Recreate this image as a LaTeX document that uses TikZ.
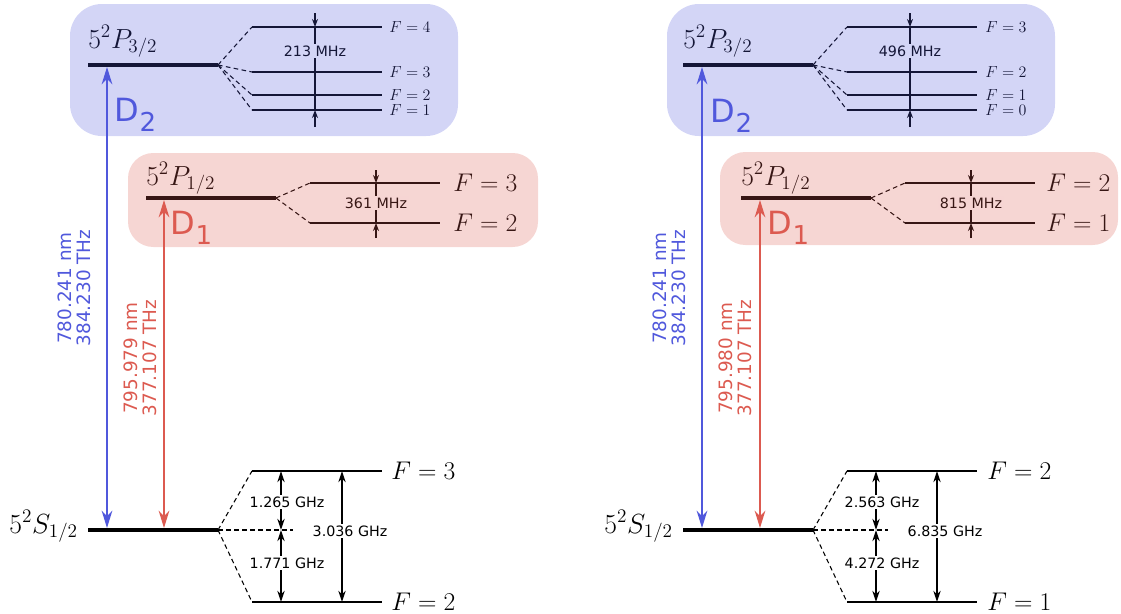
\documentclass[tikz,border=0pt]{standalone}
\usepackage{fontspec}
\setsansfont{DejaVu Sans}
\usetikzlibrary{arrows.meta}
\definecolor{blueC}{RGB}{80,88,220}
\definecolor{redC}{RGB}{220,90,80}
\tikzset{
 thickl/.style={line width=2.3pt},
 lvl/.style={line width=1pt},
 dsh/.style={line width=0.8pt, dash pattern=on 3.5pt off 2.5pt},
 stlab/.style={inner sep=0pt, font=\fontsize{20.74}{24}\selectfont},
 bigF/.style={anchor=west, inner sep=0pt, font=\fontsize{17.28}{20}\selectfont},
 smallF/.style={anchor=west, inner sep=0pt, font=\fontsize{12}{14}\selectfont},
 freq/.style={fill=white, inner sep=1.5pt, font=\sffamily\fontsize{10.7}{12}\selectfont},
 sarr/.style={line width=1pt, {Stealth[length=8.5pt,width=5.5pt]}-{Stealth[length=8.5pt,width=5.5pt]}},
 tarr/.style={line width=1pt, -{Stealth[length=6pt,width=4.5pt]}},
 larr/.style={line width=1.4pt, {Stealth[length=13pt,width=8pt]}-{Stealth[length=13pt,width=8pt]}},
 wl/.style={rotate=90, align=center, font=\sffamily\fontsize{13.8}{14.5}\selectfont},
 dlab/.style={anchor=base west, inner sep=0pt, font=\sffamily\fontsize{24}{24}\selectfont},
 boxB/.style={fill=blueC, fill opacity=0.25, rounded corners=24pt},
 boxR/.style={fill=redC, fill opacity=0.25, rounded corners=19pt},
}
\newcommand{\dsub}[1]{\kern0.5pt\raisebox{-8pt}{\fontsize{19.5}{20}\selectfont #1}}
\newcommand{\bigeq}[1]{\scalebox{1.11}{$F=#1$}}
\begin{document}
\begin{tikzpicture}[x=0.75pt,y=-0.75pt]
\useasboundingbox (0,0) rectangle (1121,614);

%================ LEFT =================
% 5P3/2
\coordinate (LPa) at (88,65); \coordinate (LPb) at (218,65);
\node[stlab, anchor=base west] (LPlab) at (88,48) {$5^2P_{3/2}$};
\foreach \y/\f/\n in {27/4/a,72/3/b,95/2/c,110/1/d}{
  \coordinate (LP\n1) at (252,\y); \coordinate (LP\n2) at (382,\y);
  \node[smallF] (LPF\n) at (389,\y) {$F=\f$};
  \draw[dsh] (LPb) -- (LP\n1);
  \draw[lvl] (LP\n1) -- (LP\n2);
}
\draw[thickl] (LPa) -- (LPb);
\coordinate (LH0) at (315,13); \coordinate (LH1) at (315,27);
\coordinate (LH2) at (315,110); \coordinate (LH3) at (315,127);
\draw[lvl] (LH1) -- (LH2);
\draw[tarr] (LH0) -- (LH1); \draw[tarr] (LH3) -- (LH2);
\node[freq] (LHl) at (315,51) {213 MHz};

% 5P1/2
\coordinate (LQa) at (146,198); \coordinate (LQb) at (276,198);
\node[stlab, anchor=base west] (LQlab) at (146,185) {$5^2P_{1/2}$};
\foreach \y/\f/\n in {183/3/a,223/2/b}{
  \coordinate (LQ\n1) at (310,\y); \coordinate (LQ\n2) at (440,\y);
  \node[bigF] (LQF\n) at (453,\y) {\bigeq{\f}};
  \draw[dsh] (LQb) -- (LQ\n1);
  \draw[lvl] (LQ\n1) -- (LQ\n2);
}
\draw[thickl] (LQa) -- (LQb);
\coordinate (LK0) at (376,170); \coordinate (LK1) at (376,183);
\coordinate (LK2) at (376,223); \coordinate (LK3) at (376,238);
\draw[lvl] (LK1) -- (LK2);
\draw[tarr] (LK0) -- (LK1); \draw[tarr] (LK3) -- (LK2);
\node[freq] (LKl) at (376,203) {361 MHz};

% 5S1/2
\coordinate (LSa) at (88,530); \coordinate (LSb) at (218,530); \coordinate (LSc) at (293,530);
\node[stlab, anchor=base east] (LSlab) at (78,533) {$5^2S_{1/2}$};
\foreach \y/\f/\n in {471/3/a,602/2/b}{
  \coordinate (LS\n1) at (252,\y); \coordinate (LS\n2) at (382,\y);
  \node[bigF] (LSF\n) at (391,\y) {\bigeq{\f}};
  \draw[dsh] (LSb) -- (LS\n1);
  \draw[lvl] (LS\n1) -- (LS\n2);
}
\draw[dsh] (LSb) -- (LSc);
\draw[thickl] (LSa) -- (LSb);
\coordinate (LG1) at (281,471); \coordinate (LG2) at (281,530); \coordinate (LG3) at (281,602);
\coordinate (LG4) at (342,471); \coordinate (LG5) at (342,602);
\draw[sarr] (LG1) -- (LG2); \draw[sarr] (LG2) -- (LG3); \draw[sarr] (LG4) -- (LG5);
\node[freq] (LGa) at (287,502) {1.265 GHz};
\node[freq] (LGb) at (287,563) {1.771 GHz};
\node[freq] (LGc) at (350,531) {3.036 GHz};

% boxes
\fill[boxB] (70,4) rectangle (458,136);
\fill[boxR] (128,153) rectangle (538,247);

% transitions
\coordinate (LBt) at (107,67); \coordinate (LBb) at (107,528);
\draw[larr, blueC] (LBt) -- (LBb);
\coordinate (LRt) at (164,200); \coordinate (LRb) at (164,528);
\draw[larr, redC] (LRt) -- (LRb);
\node[wl, text=blueC] (LWb) at (74,288) {780.241 nm\\384.230 THz};
\node[wl, text=redC] (LWr) at (140,358) {795.979 nm\\377.107 THz};
\node[dlab, text=blueC] (LD2) at (114,121) {D\dsub{2}};
\node[dlab, text=redC] (LD1) at (170,234) {D\dsub{1}};

%================ RIGHT =================
\begin{scope}[shift={(595,0)}]
\coordinate (RPa) at (88,65); \coordinate (RPb) at (218,65);
\node[stlab, anchor=base west] (RPlab) at (88,48) {$5^2P_{3/2}$};
\foreach \y/\f/\n in {27/3/a,72/2/b,95/1/c,110/0/d}{
  \coordinate (RP\n1) at (252,\y); \coordinate (RP\n2) at (382,\y);
  \node[smallF] (RPF\n) at (390,\y) {$F=\f$};
  \draw[dsh] (RPb) -- (RP\n1);
  \draw[lvl] (RP\n1) -- (RP\n2);
}
\draw[thickl] (RPa) -- (RPb);
\coordinate (RH0) at (315,13); \coordinate (RH1) at (315,27);
\coordinate (RH2) at (315,110); \coordinate (RH3) at (315,127);
\draw[lvl] (RH1) -- (RH2);
\draw[tarr] (RH0) -- (RH1); \draw[tarr] (RH3) -- (RH2);
\node[freq] (RHl) at (315,51) {496 MHz};

\coordinate (RQa) at (146,198); \coordinate (RQb) at (276,198);
\node[stlab, anchor=base west] (RQlab) at (146,185) {$5^2P_{1/2}$};
\foreach \y/\f/\n in {183/2/a,223/1/b}{
  \coordinate (RQ\n1) at (310,\y); \coordinate (RQ\n2) at (440,\y);
  \node[bigF] (RQF\n) at (451,\y) {\bigeq{\f}};
  \draw[dsh] (RQb) -- (RQ\n1);
  \draw[lvl] (RQ\n1) -- (RQ\n2);
}
\draw[thickl] (RQa) -- (RQb);
\coordinate (RK0) at (376,170); \coordinate (RK1) at (376,183);
\coordinate (RK2) at (376,223); \coordinate (RK3) at (376,238);
\draw[lvl] (RK1) -- (RK2);
\draw[tarr] (RK0) -- (RK1); \draw[tarr] (RK3) -- (RK2);
\node[freq] (RKl) at (376,203) {815 MHz};

\coordinate (RSa) at (88,530); \coordinate (RSb) at (218,530); \coordinate (RSc) at (293,530);
\node[stlab, anchor=base east] (RSlab) at (78,533) {$5^2S_{1/2}$};
\foreach \y/\f/\n in {471/2/a,602/1/b}{
  \coordinate (RS\n1) at (252,\y); \coordinate (RS\n2) at (382,\y);
  \node[bigF] (RSF\n) at (392,\y) {\bigeq{\f}};
  \draw[dsh] (RSb) -- (RS\n1);
  \draw[lvl] (RS\n1) -- (RS\n2);
}
\draw[dsh] (RSb) -- (RSc);
\draw[thickl] (RSa) -- (RSb);
\coordinate (RG1) at (281,471); \coordinate (RG2) at (281,530); \coordinate (RG3) at (281,602);
\coordinate (RG4) at (342,471); \coordinate (RG5) at (342,602);
\draw[sarr] (RG1) -- (RG2); \draw[sarr] (RG2) -- (RG3); \draw[sarr] (RG4) -- (RG5);
\node[freq] (RGa) at (287,502) {2.563 GHz};
\node[freq] (RGb) at (287,563) {4.272 GHz};
\node[freq] (RGc) at (350,531) {6.835 GHz};

\fill[boxB] (72,4) rectangle (460,136);
\fill[boxR] (125,152) rectangle (523,245);

\coordinate (RBt) at (107,67); \coordinate (RBb) at (107,528);
\draw[larr, blueC] (RBt) -- (RBb);
\coordinate (RRt) at (165,200); \coordinate (RRb) at (165,528);
\draw[larr, redC] (RRt) -- (RRb);
\node[wl, text=blueC] (RWb) at (74,288) {780.241 nm\\384.230 THz};
\node[wl, text=redC] (RWr) at (140,358) {795.980 nm\\377.107 THz};
\node[dlab, text=blueC] (RD2) at (115,122) {D\dsub{2}};
\node[dlab, text=redC] (RD1) at (172,234) {D\dsub{1}};
\end{scope}
\end{tikzpicture}
\end{document}
